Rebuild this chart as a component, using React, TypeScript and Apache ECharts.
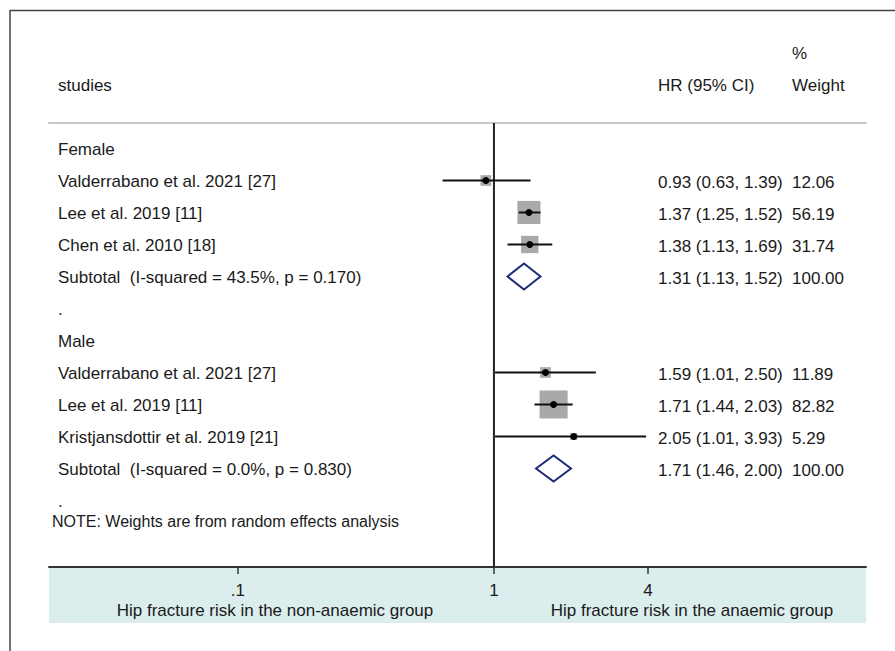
import React, { useEffect, useRef } from "react";
import * as echarts from "echarts";

// Row labels (left column), one per row of the forest plot
const rowLabels = [
  "Female",
  "Valderrabano et al. 2021 [27]",
  "Lee et al. 2019 [11]",
  "Chen et al. 2010 [18]",
  "Subtotal  (I-squared = 43.5%, p = 0.170)",
  ".",
  "Male",
  "Valderrabano et al. 2021 [27]",
  "Lee et al. 2019 [11]",
  "Kristjansdottir et al. 2019 [21]",
  "Subtotal  (I-squared = 0.0%, p = 0.830)",
  ".",
];

// Individual studies
const studyRows = [1, 2, 3, 7, 8, 9];
const studyHR = [0.93, 1.37, 1.38, 1.59, 1.71, 2.05];
const studyLo = [0.63, 1.25, 1.13, 1.01, 1.44, 1.01];
const studyHi = [1.39, 1.52, 1.69, 2.5, 2.03, 3.93];
const studyWeight = [12.06, 56.19, 31.74, 11.89, 82.82, 5.29];

// Subtotals (pooled estimates)
const subRows = [4, 10];
const subHR = [1.31, 1.71];
const subLo = [1.13, 1.46];
const subHi = [1.52, 2.0];
const subWeight = [100, 100];

// Axis ticks (HR scale, log)
const tickValues = [0.1, 1, 4];
const tickLabels = [".1", "1", "4"];
const axisMinHR = 0.01828;
const axisMaxHR = 28.4;

const FONT = '"Liberation Sans", Arial, Helvetica, sans-serif';
const TXT = "#1a1a1a";
const lg = (v: number) => Math.log10(v);

export default function App() {
  const ref = useRef<HTMLDivElement>(null);
  useEffect(() => {
    if (!ref.current) return;
    const chart = echarts.init(ref.current, null, { renderer: "svg" });

    const allRows = [...studyRows, ...subRows];
    const allHR = [...studyHR, ...subHR];
    const allLo = [...studyLo, ...subLo];
    const allHi = [...studyHi, ...subHi];
    const allW = [...studyWeight, ...subWeight];

    const tickLg = tickValues.map(lg);
    const labelIdx = rowLabels.map((_, i) => i);

    const option: any = {
      animation: false,
      backgroundColor: "#fff",
      grid: {
        left: 49,
        right: 29,
        top: 123,
        bottom: 84,
        containLabel: false,
        outerBoundsMode: "none",
      },
      xAxis: [
        {
          type: "value",
          min: lg(axisMinHR),
          max: lg(axisMaxHR),
          position: "bottom",
          splitLine: { show: false },
          axisLine: { show: true, onZero: false, lineStyle: { color: "#333", width: 2 } },
          axisTick: {
            show: true,
            customValues: tickLg,
            length: 7,
            lineStyle: { color: "#333", width: 1.5 },
          },
          axisLabel: {
            customValues: tickLg,
            margin: 15,
            fontSize: 17,
            fontFamily: FONT,
            color: TXT,
            formatter: (v: number) => {
              const i = tickLg.findIndex((t) => Math.abs(t - v) < 1e-6);
              return i >= 0 ? tickLabels[i] : "";
            },
          },
        },
        {
          type: "value",
          min: lg(axisMinHR),
          max: lg(axisMaxHR),
          position: "top",
          splitLine: { show: false },
          axisLine: { show: true, onZero: false, lineStyle: { color: "#c8c8c8", width: 2 } },
          axisTick: { show: false },
          axisLabel: { show: false },
        },
      ],
      yAxis: {
        type: "value",
        inverse: true,
        min: -0.828,
        max: 13.047,
        splitLine: { show: false },
        axisLine: { show: false },
        axisTick: { show: false },
        axisLabel: {
          inside: true,
          customValues: labelIdx,
          align: "left",
          margin: 9,
          fontSize: 17,
          fontFamily: FONT,
          color: TXT,
          formatter: (v: number) => rowLabels[Math.round(v)] ?? "",
        },
      },
      graphic: [
        {
          type: "rect",
          z: -10,
          shape: { x: 49, y: 568, width: 817, height: 55 },
          style: { fill: "#dbeded" },
        },
        {
          type: "line",
          shape: { x1: 10, y1: 10.5, x2: 895, y2: 10.5 },
          style: { stroke: "#444", lineWidth: 1.5 },
        },
        {
          type: "line",
          shape: { x1: 10, y1: 10, x2: 10, y2: 651 },
          style: { stroke: "#444", lineWidth: 1.5 },
        },
        { type: "text", x: 58, y: 85, style: { text: "studies", fontSize: 17, fontFamily: FONT, fill: TXT, align: "left", verticalAlign: "middle" } },
        { type: "text", x: 658, y: 85, style: { text: "HR (95% CI)", fontSize: 17, fontFamily: FONT, fill: TXT, align: "left", verticalAlign: "middle" } },
        { type: "text", x: 792, y: 53, style: { text: "%", fontSize: 17, fontFamily: FONT, fill: TXT, align: "left", verticalAlign: "middle" } },
        { type: "text", x: 792, y: 85, style: { text: "Weight", fontSize: 17, fontFamily: FONT, fill: TXT, align: "left", verticalAlign: "middle" } },
        { type: "text", x: 52, y: 521, style: { text: "NOTE: Weights are from random effects analysis", fontSize: 16, fontFamily: FONT, fill: TXT, align: "left", verticalAlign: "middle" } },
        { type: "text", x: 275, y: 610, style: { text: "Hip fracture risk in the non-anaemic group", fontSize: 17, fontFamily: FONT, fill: TXT, align: "center", verticalAlign: "middle" } },
        { type: "text", x: 692, y: 610, style: { text: "Hip fracture risk in the anaemic group", fontSize: 17, fontFamily: FONT, fill: TXT, align: "center", verticalAlign: "middle" } },
      ],
      series: [
        {
          type: "line",
          xAxisIndex: 0,
          data: [
            [0, -0.828],
            [0, 13.047],
          ],
          symbol: "none",
          silent: true,
          lineStyle: { color: "#222", width: 2 },
          z: 1,
        },
        {
          type: "custom",
          xAxisIndex: 0,
          z: 3,
          data: studyRows.map((r, k) => [lg(studyHR[k]), r, lg(studyLo[k]), lg(studyHi[k]), studyWeight[k]]),
          encode: { x: [0, 2, 3], y: 1 },
          renderItem: (params: any, api: any) => {
            const row = api.value(1);
            const pc = api.coord([api.value(0), row]);
            const pl = api.coord([api.value(2), row]);
            const ph = api.coord([api.value(3), row]);
            const y = pc[1] - 1;
            const side = 3.08 * Math.sqrt(api.value(4));
            return {
              type: "group",
              children: [
                {
                  type: "rect",
                  shape: { x: pc[0] - side / 2, y: y - side / 2, width: side, height: side },
                  style: { fill: "#a9a9a9" },
                },
                {
                  type: "line",
                  shape: { x1: pl[0], y1: y, x2: ph[0], y2: y },
                  style: { stroke: "#111", lineWidth: 2 },
                },
                {
                  type: "circle",
                  shape: { cx: pc[0], cy: y, r: 3.5 },
                  style: { fill: "#000" },
                },
              ],
            };
          },
        },
        {
          type: "custom",
          xAxisIndex: 0,
          z: 3,
          data: subRows.map((r, k) => [lg(subHR[k]), r, lg(subLo[k]), lg(subHi[k]), subWeight[k]]),
          encode: { x: [0, 2, 3], y: 1 },
          renderItem: (params: any, api: any) => {
            const row = api.value(1);
            const pc = api.coord([api.value(0), row]);
            const pl = api.coord([api.value(2), row]);
            const ph = api.coord([api.value(3), row]);
            const y = pc[1] - 1;
            const h = 13;
            return {
              type: "polygon",
              shape: {
                points: [
                  [pl[0], y],
                  [pc[0], y - h],
                  [ph[0], y],
                  [pc[0], y + h],
                ],
              },
              style: { fill: "none", stroke: "#1c2b78", lineWidth: 2 },
            };
          },
        },
        {
          type: "custom",
          xAxisIndex: 0,
          z: 3,
          data: allRows.map((r, k) => [lg(allHR[k]), r]),
          encode: { x: 0, y: 1 },
          renderItem: (params: any, api: any) => {
            const k = params.dataIndex;
            const y = api.coord([0, api.value(1)])[1] + 1;
            const hrText = `${allHR[k].toFixed(2)} (${allLo[k].toFixed(2)}, ${allHi[k].toFixed(2)})`;
            const wText = allW[k].toFixed(2);
            return {
              type: "group",
              children: [
                {
                  type: "text",
                  style: { text: hrText, x: 658, y, fontSize: 17, fontFamily: FONT, fill: TXT, align: "left", verticalAlign: "middle" },
                },
                {
                  type: "text",
                  style: { text: wText, x: 792, y, fontSize: 17, fontFamily: FONT, fill: TXT, align: "left", verticalAlign: "middle" },
                },
              ],
            };
          },
        },
      ],
    };

    chart.setOption(option);
    return () => chart.dispose();
  }, []);

  return (
    <div
      ref={ref}
      style={{ position: "fixed", left: 0, top: 0, width: 895, height: 651, background: "#fff" }}
    />
  );
}
